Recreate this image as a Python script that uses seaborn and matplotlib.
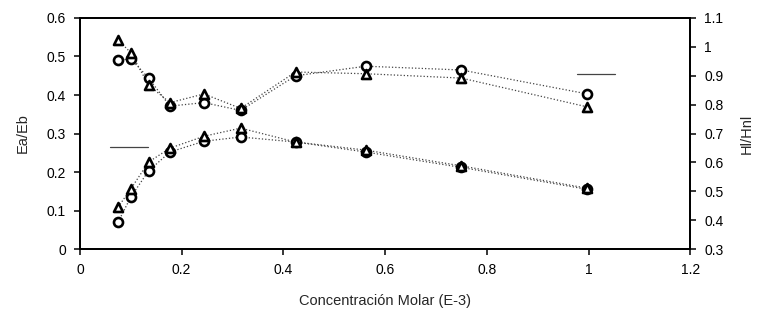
import matplotlib
matplotlib.use("Agg")
import matplotlib.pyplot as plt
import seaborn as sns
import pandas as pd

# ---- data ----
conc = [0.075, 0.10, 0.135, 0.177, 0.244, 0.316, 0.424, 0.562, 0.75, 0.998]

# Ea/Eb (left axis)
ea_circle = [0.07, 0.135, 0.203, 0.252, 0.280, 0.291, 0.278, 0.252, 0.212, 0.155]
ea_triangle = [0.109, 0.156, 0.226, 0.262, 0.293, 0.314, 0.278, 0.257, 0.216, 0.158]

# Hl/Hnl (right axis)
hl_circle = [0.953, 0.959, 0.892, 0.795, 0.807, 0.780, 0.900, 0.933, 0.920, 0.837]
hl_triangle = [1.024, 0.980, 0.868, 0.807, 0.837, 0.787, 0.913, 0.907, 0.892, 0.792]

# short reference dashes seen in the chart
dash_left_x = [0.059, 0.134]
dash_left_y = [0.265, 0.265]
dash_right_x = [0.978, 1.053]
dash_right_y = [0.905, 0.905]

xticks = [0, 0.2, 0.4, 0.6, 0.8, 1, 1.2]
yticks_left = [0, 0.1, 0.2, 0.3, 0.4, 0.5, 0.6]
yticks_right = [0.3, 0.4, 0.5, 0.6, 0.7, 0.8, 0.9, 1, 1.1]

sns.set_theme(style="ticks")
plt.rcParams["font.family"] = ["Liberation Sans", "DejaVu Sans"]

fig = plt.figure(figsize=(7.61, 3.21), dpi=100)
ax = fig.add_axes([0.105, 0.224, 0.802, 0.72])
ax2 = ax.twinx()

line_kw = dict(color="#444444", linewidth=0.9, linestyle=":")
mk_kw = dict(facecolor="white", edgecolor="black", linewidth=1.9, s=42, zorder=5)

def ser(axis, x, y, marker):
    df = pd.DataFrame({"x": x, "y": y})
    sns.lineplot(data=df, x="x", y="y", ax=axis, **line_kw)
    sns.scatterplot(data=df, x="x", y="y", ax=axis, marker=marker, **mk_kw)

ser(ax, conc, ea_circle, "o")
ser(ax, conc, ea_triangle, "^")
ser(ax2, conc, hl_circle, "o")
ser(ax2, conc, hl_triangle, "^")

ax.plot(dash_left_x, dash_left_y, color="#444444", linewidth=0.9)
ax2.plot(dash_right_x, dash_right_y, color="#444444", linewidth=0.9)

ax.set_xlim(0, 1.2)
ax.set_ylim(0, 0.6)
ax2.set_ylim(0.3, 1.1)
ax.set_xticks(xticks)
ax.set_xticklabels([f"{v:g}" for v in xticks])
ax.set_yticks(yticks_left)
ax.set_yticklabels([f"{v:g}" for v in yticks_left])
ax2.set_yticks(yticks_right)
ax2.set_yticklabels([f"{v:g}" for v in yticks_right])

for a in (ax, ax2):
    for s in a.spines.values():
        s.set_color("black")
        s.set_linewidth(1.3)
        s.set_visible(True)
    a.tick_params(direction="out", length=4, width=1.1, colors="black",
                  labelsize=10, pad=6)

ax.set_xlabel("Concentración Molar (E-3)", fontsize=10.5, labelpad=12)
ax.set_ylabel("Ea/Eb", fontsize=10.5, labelpad=12)
ax2.set_ylabel("Hl/Hnl", fontsize=10.5, labelpad=12)

fig.savefig("out.png", dpi=100)
